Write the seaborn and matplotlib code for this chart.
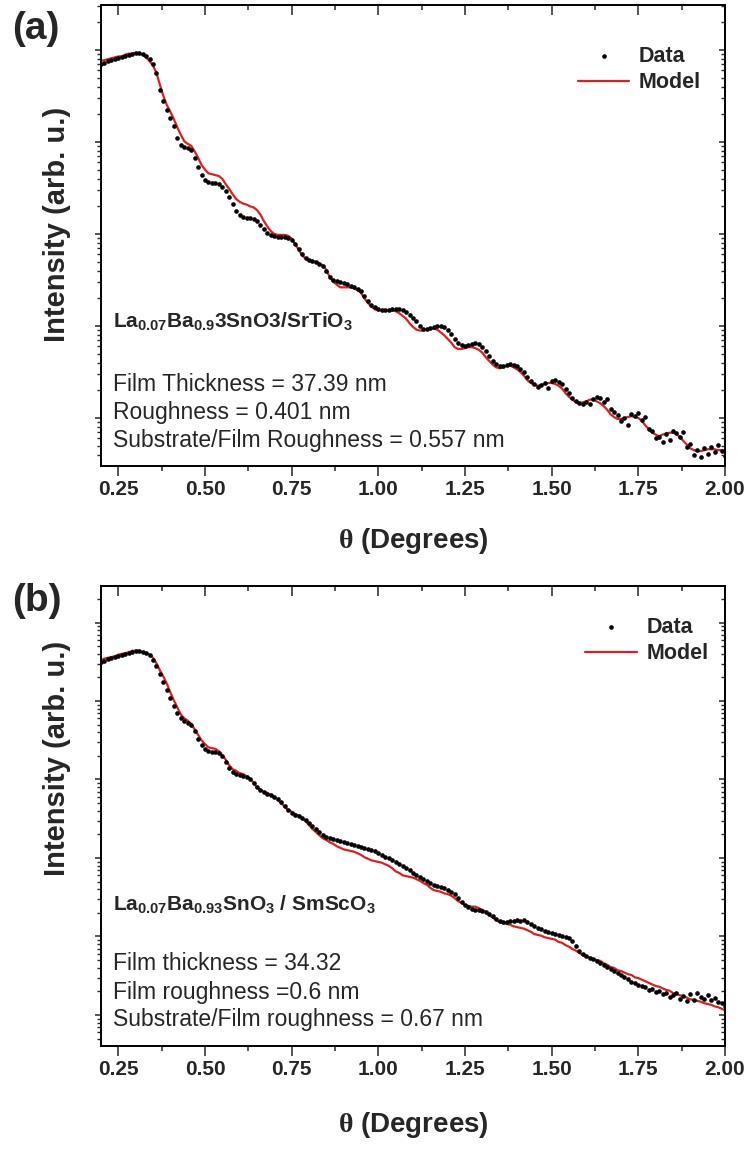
import numpy as np
import pandas as pd
import matplotlib
matplotlib.use("Agg")
import matplotlib.pyplot as plt
import matplotlib.ticker as mticker
import seaborn as sns

# Scattering angle grid: readings every 0.01 degree from 0.20 to 2.00
theta = np.round(np.linspace(0.20, 2.00, 181), 2)

# Panel (a): La0.07Ba0.93SnO3 / SrTiO3, log10 of reflected intensity
log_data_a = [
    4.85, 4.86, 4.88, 4.89, 4.90, 4.91, 4.92, 4.93, 4.95, 4.96,
    4.97, 4.97, 4.96, 4.93, 4.90, 4.85, 4.75, 4.57, 4.45, 4.35,
    4.26, 4.17, 4.04, 3.97, 3.95, 3.93, 3.91, 3.83, 3.73, 3.64,
    3.59, 3.57, 3.55, 3.55, 3.54, 3.51, 3.47, 3.40, 3.33, 3.25,
    3.21, 3.18, 3.17, 3.17, 3.16, 3.14, 3.10, 3.05, 3.01, 2.99,
    2.98, 2.97, 2.97, 2.97, 2.96, 2.93, 2.89, 2.84, 2.78, 2.74,
    2.72, 2.71, 2.70, 2.67, 2.65, 2.60, 2.53, 2.50, 2.49, 2.48,
    2.47, 2.46, 2.43, 2.42, 2.40, 2.38, 2.33, 2.27, 2.23, 2.21,
    2.18, 2.17, 2.17, 2.17, 2.18, 2.18, 2.18, 2.17, 2.15, 2.12,
    2.09, 2.05, 2.00, 1.97, 1.97, 1.98, 1.99, 2.00, 2.00, 1.99,
    1.96, 1.91, 1.86, 1.82, 1.79, 1.78, 1.79, 1.80, 1.82, 1.80,
    1.77, 1.73, 1.67, 1.62, 1.59, 1.57, 1.57, 1.58, 1.59, 1.58,
    1.57, 1.53, 1.50, 1.45, 1.40, 1.37, 1.34, 1.36, 1.38, 1.33,
    1.40, 1.41, 1.39, 1.37, 1.32, 1.27, 1.22, 1.18, 1.16, 1.15,
    1.17, 1.15, 1.21, 1.23, 1.22, 1.17, 1.21, 1.10, 1.07, 1.03,
    0.97, 1.00, 0.92, 1.04, 1.02, 1.05, 0.98, 1.01, 0.88, 0.86,
    0.78, 0.79, 0.74, 0.83, 0.76, 0.86, 0.84, 0.79, 0.85, 0.68,
    0.72, 0.60, 0.65, 0.58, 0.67, 0.61, 0.68, 0.63, 0.71, 0.64,
    0.59,
]
log_model_a = [
    4.88, 4.89, 4.90, 4.91, 4.92, 4.93, 4.93, 4.95, 4.96, 4.96,
    4.97, 4.96, 4.95, 4.92, 4.88, 4.83, 4.75, 4.62, 4.50, 4.40,
    4.33, 4.25, 4.16, 4.08, 4.01, 3.98, 3.96, 3.90, 3.83, 3.75,
    3.70, 3.66, 3.65, 3.64, 3.63, 3.60, 3.54, 3.49, 3.43, 3.38,
    3.35, 3.33, 3.32, 3.30, 3.29, 3.26, 3.21, 3.14, 3.08, 3.03,
    3.00, 2.99, 2.99, 2.99, 2.98, 2.95, 2.89, 2.83, 2.77, 2.73,
    2.71, 2.70, 2.70, 2.68, 2.66, 2.61, 2.53, 2.48, 2.45, 2.42,
    2.42, 2.42, 2.42, 2.41, 2.39, 2.36, 2.30, 2.25, 2.21, 2.18,
    2.17, 2.17, 2.17, 2.17, 2.17, 2.16, 2.14, 2.11, 2.08, 2.03,
    1.99, 1.96, 1.95, 1.95, 1.96, 1.97, 1.97, 1.96, 1.93, 1.90,
    1.86, 1.82, 1.77, 1.75, 1.75, 1.76, 1.77, 1.77, 1.76, 1.74,
    1.71, 1.66, 1.62, 1.58, 1.55, 1.54, 1.55, 1.57, 1.57, 1.55,
    1.53, 1.50, 1.46, 1.41, 1.38, 1.36, 1.35, 1.36, 1.37, 1.38,
    1.38, 1.37, 1.35, 1.32, 1.27, 1.23, 1.20, 1.17, 1.16, 1.17,
    1.18, 1.20, 1.20, 1.18, 1.16, 1.13, 1.09, 1.04, 1.01, 0.99,
    0.99, 1.00, 1.01, 1.02, 1.01, 1.00, 0.97, 0.92, 0.88, 0.84,
    0.82, 0.80, 0.82, 0.83, 0.84, 0.84, 0.83, 0.79, 0.75, 0.71,
    0.67, 0.65, 0.64, 0.64, 0.65, 0.66, 0.66, 0.66, 0.65, 0.65,
    0.64,
]

# Panel (b): La0.07Ba0.93SnO3 / SmScO3, log10 of reflected intensity
log_data_b = [
    4.50, 4.51, 4.54, 4.55, 4.56, 4.57, 4.59, 4.60, 4.61, 4.62,
    4.64, 4.64, 4.62, 4.61, 4.59, 4.52, 4.45, 4.34, 4.24, 4.14,
    4.04, 3.94, 3.85, 3.78, 3.75, 3.72, 3.69, 3.62, 3.52, 3.44,
    3.39, 3.36, 3.35, 3.35, 3.34, 3.30, 3.22, 3.15, 3.10, 3.07,
    3.06, 3.04, 3.03, 3.01, 2.96, 2.90, 2.87, 2.84, 2.82, 2.80,
    2.78, 2.75, 2.71, 2.66, 2.61, 2.57, 2.55, 2.54, 2.51, 2.48,
    2.45, 2.41, 2.37, 2.33, 2.29, 2.27, 2.25, 2.24, 2.23, 2.22,
    2.20, 2.19, 2.18, 2.17, 2.15, 2.14, 2.13, 2.11, 2.10, 2.09,
    2.06, 2.04, 2.01, 2.00, 1.97, 1.95, 1.92, 1.90, 1.87, 1.85,
    1.81, 1.78, 1.76, 1.73, 1.71, 1.68, 1.66, 1.64, 1.63, 1.62,
    1.59, 1.57, 1.54, 1.49, 1.44, 1.40, 1.38, 1.35, 1.34, 1.34,
    1.32, 1.31, 1.29, 1.26, 1.22, 1.20, 1.18, 1.18, 1.20, 1.20,
    1.21, 1.20, 1.21, 1.18, 1.16, 1.13, 1.11, 1.10, 1.07, 1.06,
    1.04, 1.03, 1.02, 1.01, 0.99, 0.98, 0.94, 0.88, 0.82, 0.78,
    0.75, 0.73, 0.71, 0.69, 0.66, 0.64, 0.61, 0.59, 0.56, 0.54,
    0.51, 0.48, 0.46, 0.42, 0.41, 0.38, 0.37, 0.36, 0.32, 0.33,
    0.29, 0.31, 0.27, 0.28, 0.23, 0.25, 0.28, 0.20, 0.24, 0.18,
    0.27, 0.19, 0.28, 0.23, 0.20, 0.25, 0.19, 0.22, 0.17, 0.15,
    0.11,
]
log_model_b = [
    4.52, 4.54, 4.55, 4.56, 4.57, 4.59, 4.60, 4.61, 4.62, 4.64,
    4.64, 4.64, 4.62, 4.61, 4.59, 4.55, 4.48, 4.39, 4.31, 4.22,
    4.11, 4.01, 3.92, 3.83, 3.78, 3.75, 3.71, 3.64, 3.57, 3.50,
    3.45, 3.41, 3.40, 3.39, 3.36, 3.31, 3.25, 3.18, 3.13, 3.11,
    3.08, 3.07, 3.04, 3.01, 2.96, 2.90, 2.87, 2.84, 2.83, 2.80,
    2.78, 2.74, 2.70, 2.65, 2.61, 2.59, 2.56, 2.54, 2.51, 2.47,
    2.42, 2.37, 2.33, 2.29, 2.25, 2.23, 2.20, 2.18, 2.15, 2.13,
    2.11, 2.10, 2.09, 2.08, 2.06, 2.04, 2.01, 1.99, 1.97, 1.96,
    1.95, 1.94, 1.92, 1.90, 1.87, 1.83, 1.81, 1.78, 1.77, 1.76,
    1.75, 1.73, 1.71, 1.68, 1.66, 1.62, 1.59, 1.58, 1.57, 1.55,
    1.54, 1.52, 1.49, 1.45, 1.43, 1.40, 1.39, 1.38, 1.38, 1.36,
    1.34, 1.31, 1.27, 1.24, 1.21, 1.18, 1.17, 1.16, 1.15, 1.13,
    1.12, 1.11, 1.10, 1.08, 1.06, 1.03, 1.02, 1.01, 0.99, 0.98,
    0.97, 0.96, 0.93, 0.92, 0.89, 0.87, 0.84, 0.82, 0.79, 0.76,
    0.74, 0.73, 0.71, 0.70, 0.69, 0.66, 0.64, 0.61, 0.60, 0.57,
    0.56, 0.54, 0.52, 0.51, 0.48, 0.47, 0.45, 0.43, 0.41, 0.39,
    0.37, 0.36, 0.34, 0.32, 0.31, 0.28, 0.27, 0.25, 0.24, 0.22,
    0.20, 0.19, 0.18, 0.17, 0.15, 0.14, 0.13, 0.11, 0.10, 0.08,
    0.06,
]

panel_tags = ["(a)", "(b)"]
series_names = ["Data", "Model"]
formulas = [
    r"$\mathbf{La_{0.07}Ba_{0.9}3SnO3/SrTiO_{3}}$",
    r"$\mathbf{La_{0.07}Ba_{0.93}SnO_{3}\ /\ SmScO_{3}}$",
]
fit_notes = [
    ["Film Thickness = 37.39 nm",
     "Roughness = 0.401 nm",
     "Substrate/Film Roughness = 0.557 nm"],
    ["Film thickness = 34.32",
     "Film roughness =0.6 nm",
     "Substrate/Film roughness = 0.67 nm"],
]
x_label = r"$\theta$ (Degrees)"
y_label = "Intensity (arb. u.)"

RED = "#dd1f1f"

sns.set_style("ticks")
plt.rcParams.update({
    "font.family": ["Liberation Sans", "DejaVu Sans"],
    "font.weight": "bold",
    "mathtext.fontset": "custom",
    "mathtext.rm": "Liberation Sans",
    "mathtext.bf": "Liberation Sans:bold",
    "mathtext.it": "Liberation Serif",
    "axes.linewidth": 1.1,
    "axes.edgecolor": "black",
})

W, H = 753, 1152
fig = plt.figure(figsize=(W / 100, H / 100), dpi=100)


def frame(left, top, right, bottom):
    return [left / W, 1 - bottom / H, (right - left) / W, (bottom - top) / H]


def draw_panel(rect, log_data, log_model, ylim, formula, notes, text_y, leg_anchor):
    ax = fig.add_axes(rect)
    df_data = pd.DataFrame({"theta": theta, "intensity": 10 ** np.asarray(log_data)})
    df_model = pd.DataFrame({"theta": theta, "intensity": 10 ** np.asarray(log_model)})
    sns.lineplot(data=df_model, x="theta", y="intensity", color=RED, linewidth=1.6,
                 estimator=None, ax=ax, label=series_names[1], zorder=2)
    sns.scatterplot(data=df_data, x="theta", y="intensity", color="black", s=11,
                    linewidth=0, ax=ax, label=series_names[0], zorder=3)
    ax.set_yscale("log")
    ax.set_xlim(0.2, 2.0)
    ax.set_ylim(*ylim)
    ax.set_xlabel("")
    ax.set_ylabel("")

    # bottom / left: outward ticks, tick labels only on x
    ax.xaxis.set_major_locator(mticker.MultipleLocator(0.25))
    ax.xaxis.set_minor_locator(mticker.MultipleLocator(0.125))
    ax.xaxis.set_major_formatter(mticker.FormatStrFormatter("%.2f"))
    ax.yaxis.set_major_locator(mticker.LogLocator(base=10, numticks=20))
    ax.yaxis.set_minor_locator(mticker.LogLocator(base=10, subs=np.arange(2, 10), numticks=20))
    ax.yaxis.set_major_formatter(mticker.NullFormatter())
    ax.yaxis.set_minor_formatter(mticker.NullFormatter())
    ax.tick_params(axis="x", which="major", direction="out", length=7, width=1.1,
                   labelsize=15, pad=3, top=False)
    ax.tick_params(axis="x", which="minor", direction="out", length=3.6, width=1.1, top=False)
    ax.tick_params(axis="y", which="major", direction="out", length=4, width=1.1,
                   right=False, labelleft=False)
    ax.tick_params(axis="y", which="minor", direction="out", length=2.6, width=1.0, right=False)

    # top / right: inward ticks without labels
    top = ax.twiny()
    top.set_xlim(0.2, 2.0)
    top.xaxis.set_major_locator(mticker.MultipleLocator(0.25))
    top.xaxis.set_minor_locator(mticker.MultipleLocator(0.125))
    top.xaxis.set_major_formatter(mticker.NullFormatter())
    top.tick_params(axis="x", which="major", direction="in", length=7, width=1.1, labeltop=False)
    top.tick_params(axis="x", which="minor", direction="in", length=3.6, width=1.1)

    right = ax.twinx()
    right.set_yscale("log")
    right.set_ylim(*ylim)
    right.yaxis.set_major_locator(mticker.LogLocator(base=10, numticks=20))
    right.yaxis.set_minor_locator(mticker.LogLocator(base=10, subs=np.arange(2, 10), numticks=20))
    right.yaxis.set_major_formatter(mticker.NullFormatter())
    right.yaxis.set_minor_formatter(mticker.NullFormatter())
    right.tick_params(axis="y", which="major", direction="in", length=4, width=1.1, labelright=False)
    right.tick_params(axis="y", which="minor", direction="in", length=2.6, width=1.0)

    handles, labels = ax.get_legend_handles_labels()
    order = [labels.index(series_names[0]), labels.index(series_names[1])]
    ax.legend([handles[i] for i in order], [labels[i] for i in order],
              loc="upper left", bbox_to_anchor=leg_anchor, frameon=False,
              borderpad=0, borderaxespad=0, handlelength=2.4, handletextpad=0.45,
              labelspacing=0.25, fontsize=15.5, markerscale=1.0)

    ax.text(0.019, text_y[0], formula, transform=ax.transAxes, fontsize=15,
            ha="left", va="center")
    for line, yy in zip(notes, text_y[1:]):
        ax.text(0.019, yy, line, transform=ax.transAxes, fontsize=16.5,
                fontweight="normal", ha="left", va="center")
    return ax


draw_panel(frame(101, 5, 725, 466), log_data_a, log_model_a,
           (10 ** 0.478, 10 ** 5.489), formulas[0], fit_notes[0],
           (0.312, 0.176, 0.115, 0.056), (0.764, 0.911))
draw_panel(frame(101, 586, 725, 1046), log_data_b, log_model_b,
           (10 ** -0.395, 10 ** 5.465), formulas[1], fit_notes[1],
           (0.307, 0.180, 0.117, 0.057), (0.776, 0.933))

fig.text(12 / W, 1 - 29 / H, panel_tags[0], fontsize=28, ha="left", va="center")
fig.text(12 / W, 1 - 601 / H, panel_tags[1], fontsize=28, ha="left", va="center")
fig.text(57 / W, 1 - 224 / H, y_label, rotation=90, fontsize=21, ha="center", va="center")
fig.text(57 / W, 1 - 758 / H, y_label, rotation=90, fontsize=21, ha="center", va="center")
fig.text(413 / W, 1 - 541 / H, x_label, fontsize=20, ha="center", va="center")
fig.text(413 / W, 1 - 1125 / H, x_label, fontsize=20, ha="center", va="center")

fig.savefig("out.png", dpi=100)
